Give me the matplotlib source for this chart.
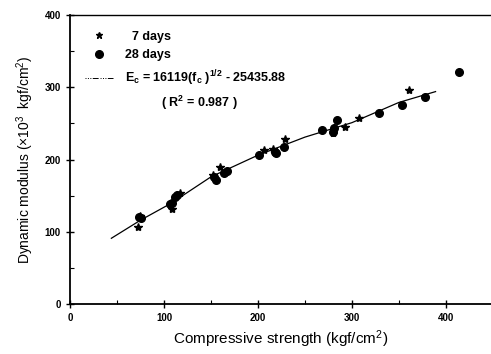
import numpy as np
import matplotlib
matplotlib.use("Agg")
import matplotlib.pyplot as plt
from matplotlib.lines import Line2D
from matplotlib.ticker import MultipleLocator

plt.rcParams['font.family'] = ['Liberation Sans', 'DejaVu Sans']
plt.rcParams['mathtext.default'] = 'regular'

# 7 days (stars)
x_7d = [72, 74, 108, 117, 152, 160, 206, 216, 229, 280, 293, 308, 361]
y_7d = [106, 122, 132, 153, 178, 190, 213, 214, 229, 237, 245, 258, 296]

# 28 days (dots)
x_28d = [73, 76, 106, 109, 112, 114, 153, 155, 164, 167, 201, 218, 219, 228,
         268, 280, 281, 284, 329, 353, 378, 414]
y_28d = [121, 119, 138, 140, 148, 151, 176, 172, 181, 184, 206, 211, 209, 217,
         241, 238, 244, 254, 265, 275, 286, 321]

# fitted curve, points
x_fit = [44, 75, 107, 150, 200, 250, 300, 350, 389]
y_fit = [91, 116, 139, 176, 206, 231, 251, 279, 294]

fit_label = r"E$_c$ = 16119(f$_c$ )$^{1/2}$ - 25435.88"

fig = plt.figure(figsize=(4.91, 3.54), dpi=100)
ax = fig.add_axes([0.1426, 0.1412, 0.8574, 0.8164])

ax.plot(x_fit, y_fit, color='black', linewidth=0.9)
ax.plot(x_7d, y_7d, linestyle='none', marker='*', color='black', markersize=6)
ax.plot(x_28d, y_28d, linestyle='none', marker='o', color='black', markersize=5.5)

ax.set_xlim(0, 448)
ax.set_ylim(0, 400)
ax.xaxis.set_major_locator(MultipleLocator(100))
ax.xaxis.set_minor_locator(MultipleLocator(50))
ax.yaxis.set_major_locator(MultipleLocator(100))
ax.yaxis.set_minor_locator(MultipleLocator(50))
ax.tick_params(which='major', direction='inout', length=6, width=1,
               labelsize=7)
ax.tick_params(which='minor', direction='in', length=3, width=0.8)
for lab in ax.get_xticklabels() + ax.get_yticklabels():
    lab.set_fontweight('bold')
for sp in ['left', 'bottom']:
    ax.spines[sp].set_linewidth(1.3)
ax.spines['top'].set_linewidth(1.0)
ax.spines['right'].set_visible(False)

ax.set_xlabel("Compressive strength (kgf/cm$^2$)", fontsize=11, labelpad=4)
ax.set_ylabel("Dynamic modulus (\u00d710$^3$  kgf/cm$^2$)", fontsize=10, labelpad=6)

handles = [
    Line2D([], [], linestyle='none', marker='*', color='black', markersize=5),
    Line2D([], [], linestyle='none', marker='o', color='black', markersize=5.5),
    Line2D([], [], color='black', linewidth=0.7, linestyle=(0, (1, 1.5, 1, 1.5, 1, 1.5, 6, 2))),
]
labels = ["  7 days", "28 days", fit_label]
leg = ax.legend(handles, labels, loc='upper left', bbox_to_anchor=(0.01, 0.985),
                frameon=False, handlelength=2.2, handletextpad=1.0,
                labelspacing=0.55, prop={'weight': 'bold', 'size': 9})
ax.text(0.217, 0.695, "( R$^2$ = 0.987 )", transform=ax.transAxes,
        fontsize=9, fontweight='bold', ha='left', va='center')

fig.savefig("out.png", dpi=100)
